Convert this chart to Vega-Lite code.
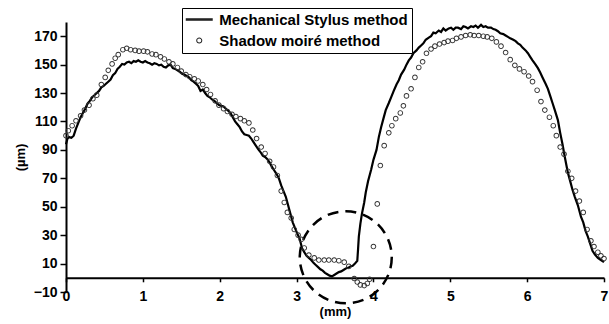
{
  "$schema": "https://vega.github.io/schema/vega-lite/v6.json",
  "width": 538,
  "height": 270,
  "autosize": {"type": "none"},
  "padding": {"left": 66, "top": 22, "right": 5, "bottom": 32},
  "config": {
    "view": {"stroke": null},
    "font": "Liberation Sans",
    "axis": {"grid": false, "domainColor": "black", "tickColor": "black", "labelColor": "black", "titleColor": "black", "labelFont": "Liberation Sans", "titleFont": "Liberation Sans", "labelFontWeight": "bold", "titleFontWeight": "bold", "labelOverlap": false}
  },
  "datasets": {
    "note": [{"x": 3.64, "y": 14.4}],
    "stylus": [
      {"x":0.00,"y":94},{"x":0.02,"y":98},{"x":0.04,"y":99},{"x":0.07,"y":98.5},{"x":0.10,"y":100},{"x":0.13,"y":105},{"x":0.16,"y":109},{"x":0.19,"y":113},{"x":0.22,"y":116},{"x":0.25,"y":119},
      {"x":0.28,"y":122.5},{"x":0.31,"y":124.5},{"x":0.34,"y":127},{"x":0.37,"y":128.5},{"x":0.40,"y":130},{"x":0.43,"y":131.5},{"x":0.46,"y":134},{"x":0.49,"y":135},{"x":0.52,"y":136.5},{"x":0.55,"y":138},
      {"x":0.58,"y":139.5},{"x":0.61,"y":142.5},{"x":0.64,"y":144},{"x":0.67,"y":147},{"x":0.70,"y":148.5},{"x":0.73,"y":150.5},{"x":0.76,"y":150},{"x":0.79,"y":151.5},{"x":0.82,"y":152},{"x":0.85,"y":151},
      {"x":0.88,"y":152.5},{"x":0.91,"y":152},{"x":0.94,"y":153},{"x":0.97,"y":152},{"x":1.00,"y":151.5},{"x":1.03,"y":152.5},{"x":1.06,"y":151.5},{"x":1.09,"y":151},{"x":1.12,"y":150},{"x":1.15,"y":151},
      {"x":1.18,"y":150.5},{"x":1.21,"y":149.5},{"x":1.24,"y":150},{"x":1.27,"y":148.5},{"x":1.30,"y":148},{"x":1.33,"y":149.5},{"x":1.36,"y":150},{"x":1.39,"y":147.5},{"x":1.42,"y":147},{"x":1.45,"y":146},
      {"x":1.48,"y":145},{"x":1.51,"y":143.5},{"x":1.54,"y":143},{"x":1.57,"y":142},{"x":1.60,"y":141},{"x":1.63,"y":139},{"x":1.66,"y":138},{"x":1.69,"y":136.5},{"x":1.72,"y":135},{"x":1.75,"y":131.5},
      {"x":1.78,"y":132.5},{"x":1.81,"y":130},{"x":1.84,"y":128},{"x":1.87,"y":127},{"x":1.90,"y":125.5},{"x":1.93,"y":124.5},{"x":1.96,"y":123},{"x":1.99,"y":121.5},{"x":2.02,"y":121},{"x":2.05,"y":120.5},
      {"x":2.08,"y":119},{"x":2.11,"y":117.5},{"x":2.14,"y":116},{"x":2.17,"y":113},{"x":2.20,"y":110},{"x":2.23,"y":108},{"x":2.26,"y":106},{"x":2.29,"y":103},{"x":2.32,"y":101},{"x":2.35,"y":100.5},
      {"x":2.38,"y":100},{"x":2.41,"y":98},{"x":2.44,"y":95.5},{"x":2.47,"y":93},{"x":2.50,"y":90.5},{"x":2.53,"y":88.5},{"x":2.56,"y":86},{"x":2.59,"y":85},{"x":2.62,"y":83.5},{"x":2.65,"y":81},
      {"x":2.68,"y":78},{"x":2.71,"y":75.5},{"x":2.74,"y":73},{"x":2.77,"y":70},{"x":2.80,"y":65},{"x":2.83,"y":61},{"x":2.86,"y":57},{"x":2.89,"y":51},{"x":2.92,"y":45},{"x":2.95,"y":39},
      {"x":2.98,"y":35},{"x":3.01,"y":31},{"x":3.04,"y":27.5},{"x":3.07,"y":21},{"x":3.10,"y":18},{"x":3.13,"y":15.5},{"x":3.16,"y":14},{"x":3.19,"y":12.5},{"x":3.22,"y":10.5},{"x":3.25,"y":9},
      {"x":3.28,"y":7.5},{"x":3.31,"y":6},{"x":3.34,"y":5},{"x":3.37,"y":3.5},{"x":3.40,"y":2.5},{"x":3.43,"y":1.5},{"x":3.46,"y":1},{"x":3.49,"y":2},{"x":3.52,"y":3},{"x":3.55,"y":4},
      {"x":3.58,"y":4.5},{"x":3.61,"y":5.5},{"x":3.64,"y":6.5},{"x":3.67,"y":7},{"x":3.70,"y":8},{"x":3.73,"y":8.5},{"x":3.76,"y":10},{"x":3.79,"y":12},{"x":3.80,"y":20},{"x":3.81,"y":29},
      {"x":3.83,"y":38},{"x":3.85,"y":45},{"x":3.88,"y":53},{"x":3.90,"y":60},{"x":3.93,"y":68},{"x":3.97,"y":76},{"x":4.00,"y":83},{"x":4.04,"y":90},{"x":4.07,"y":99},{"x":4.10,"y":106},
      {"x":4.13,"y":112},{"x":4.16,"y":118},{"x":4.20,"y":123},{"x":4.23,"y":127},{"x":4.26,"y":131},{"x":4.30,"y":136},{"x":4.33,"y":139},{"x":4.36,"y":143},{"x":4.40,"y":146.5},{"x":4.43,"y":150},
      {"x":4.46,"y":153},{"x":4.49,"y":155},{"x":4.52,"y":158},{"x":4.56,"y":160},{"x":4.59,"y":162},{"x":4.62,"y":163.5},{"x":4.65,"y":165},{"x":4.68,"y":167.5},{"x":4.72,"y":169},{"x":4.75,"y":170},
      {"x":4.78,"y":172.5},{"x":4.81,"y":172},{"x":4.85,"y":174},{"x":4.88,"y":173},{"x":4.91,"y":175.5},{"x":4.94,"y":174},{"x":4.98,"y":175.5},{"x":5.01,"y":176},{"x":5.04,"y":174.5},{"x":5.07,"y":176},
      {"x":5.10,"y":176},{"x":5.14,"y":175},{"x":5.17,"y":177},{"x":5.20,"y":176.5},{"x":5.23,"y":175.5},{"x":5.27,"y":177},{"x":5.30,"y":176.5},{"x":5.33,"y":177.5},{"x":5.36,"y":176},{"x":5.40,"y":178},
      {"x":5.43,"y":176.5},{"x":5.46,"y":177},{"x":5.49,"y":176},{"x":5.53,"y":176},{"x":5.56,"y":175},{"x":5.59,"y":174.5},{"x":5.62,"y":173.5},{"x":5.65,"y":172},{"x":5.69,"y":171.5},{"x":5.72,"y":170.5},
      {"x":5.75,"y":169.5},{"x":5.78,"y":168.5},{"x":5.82,"y":167.5},{"x":5.85,"y":166.5},{"x":5.88,"y":165},{"x":5.91,"y":164},{"x":5.94,"y":162},{"x":5.98,"y":160},{"x":6.01,"y":158},{"x":6.04,"y":155.5},
      {"x":6.07,"y":153},{"x":6.11,"y":150},{"x":6.14,"y":147.5},{"x":6.17,"y":144.5},{"x":6.20,"y":141},{"x":6.24,"y":136.5},{"x":6.27,"y":133},{"x":6.30,"y":128},{"x":6.33,"y":123},{"x":6.36,"y":118},
      {"x":6.40,"y":111},{"x":6.43,"y":102},{"x":6.46,"y":94},{"x":6.49,"y":85},{"x":6.53,"y":74},{"x":6.56,"y":68},{"x":6.59,"y":62},{"x":6.62,"y":57},{"x":6.66,"y":51},{"x":6.70,"y":43},
      {"x":6.73,"y":39},{"x":6.76,"y":33},{"x":6.79,"y":29},{"x":6.82,"y":24},{"x":6.85,"y":19},{"x":6.88,"y":16.5},{"x":6.92,"y":14},{"x":6.96,"y":12.5},{"x":7.00,"y":11}
    ],
    "legendrows": [
      {"method": "Mechanical Stylus method"},
      {"method": "Shadow moiré method"}
    ],
    "moire": [
      {"x":0.00,"y":100},{"x":0.03,"y":103.5},{"x":0.08,"y":107},{"x":0.13,"y":110.5},{"x":0.19,"y":114},{"x":0.24,"y":118},{"x":0.30,"y":121.5},{"x":0.35,"y":126},{"x":0.40,"y":128.5},{"x":0.46,"y":136},
      {"x":0.51,"y":141},{"x":0.55,"y":146},{"x":0.60,"y":150.5},{"x":0.64,"y":154.5},{"x":0.68,"y":157},{"x":0.74,"y":160.5},{"x":0.79,"y":161.5},{"x":0.84,"y":160.5},{"x":0.90,"y":160},{"x":0.95,"y":159.5},
      {"x":1.01,"y":159.5},{"x":1.06,"y":159},{"x":1.12,"y":157.5},{"x":1.17,"y":157},{"x":1.23,"y":155.5},{"x":1.28,"y":154},{"x":1.34,"y":152},{"x":1.39,"y":150.5},{"x":1.45,"y":148},{"x":1.50,"y":145.5},
      {"x":1.56,"y":143},{"x":1.61,"y":141.5},{"x":1.67,"y":140},{"x":1.72,"y":138.5},{"x":1.78,"y":136},{"x":1.83,"y":132.5},{"x":1.88,"y":129},{"x":1.94,"y":124.5},{"x":1.99,"y":121.5},{"x":2.05,"y":119},
      {"x":2.10,"y":117},{"x":2.16,"y":115},{"x":2.21,"y":113.5},{"x":2.27,"y":112},{"x":2.32,"y":110.5},{"x":2.38,"y":109},{"x":2.43,"y":104},{"x":2.48,"y":98},{"x":2.54,"y":92},{"x":2.59,"y":87.5},
      {"x":2.65,"y":82},{"x":2.70,"y":78},{"x":2.75,"y":72},{"x":2.80,"y":61},{"x":2.84,"y":53},{"x":2.88,"y":46},{"x":2.93,"y":42},{"x":2.97,"y":34},{"x":3.02,"y":30},{"x":3.06,"y":27},
      {"x":3.10,"y":21},{"x":3.16,"y":16},{"x":3.23,"y":14},{"x":3.29,"y":12.5},{"x":3.36,"y":12.5},{"x":3.42,"y":12.5},{"x":3.49,"y":12.5},{"x":3.55,"y":12},{"x":3.62,"y":11},{"x":3.68,"y":8},
      {"x":3.75,"y":-0.5},{"x":3.79,"y":-3},{"x":3.83,"y":-5},{"x":3.88,"y":-5.5},{"x":3.92,"y":-4},{"x":3.95,"y":-1},{"x":4.00,"y":22},{"x":4.05,"y":52},{"x":4.09,"y":79},{"x":4.14,"y":93},
      {"x":4.20,"y":102},{"x":4.24,"y":107},{"x":4.29,"y":112},{"x":4.35,"y":116},{"x":4.39,"y":121},{"x":4.43,"y":128},{"x":4.49,"y":133},{"x":4.54,"y":141},{"x":4.59,"y":148},{"x":4.64,"y":152},
      {"x":4.69,"y":158},{"x":4.75,"y":161},{"x":4.80,"y":163},{"x":4.86,"y":164.5},{"x":4.92,"y":165.5},{"x":4.97,"y":166.5},{"x":5.03,"y":167},{"x":5.08,"y":168.5},{"x":5.14,"y":169.5},{"x":5.20,"y":170.5},
      {"x":5.26,"y":171},{"x":5.31,"y":170.5},{"x":5.37,"y":170.5},{"x":5.43,"y":170},{"x":5.48,"y":169.5},{"x":5.54,"y":168.5},{"x":5.60,"y":166},{"x":5.66,"y":163},{"x":5.72,"y":158.5},{"x":5.78,"y":153.5},
      {"x":5.84,"y":149.5},{"x":5.90,"y":147},{"x":5.96,"y":145},{"x":6.02,"y":142},{"x":6.07,"y":138},{"x":6.13,"y":132},{"x":6.18,"y":124},{"x":6.23,"y":118},{"x":6.29,"y":113},{"x":6.34,"y":107},
      {"x":6.38,"y":100},{"x":6.43,"y":92},{"x":6.48,"y":87},{"x":6.53,"y":75},{"x":6.58,"y":70},{"x":6.63,"y":61},{"x":6.68,"y":54},{"x":6.73,"y":46},{"x":6.78,"y":34},{"x":6.83,"y":26},
      {"x":6.87,"y":22},{"x":6.92,"y":18},{"x":6.96,"y":15.5},{"x":7.00,"y":13.5}
    ]
  },
  "encoding": {
    "x": {"field": "x", "type": "quantitative", "scale": {"domain": [0, 7], "nice": false},
      "axis": {"title": "(mm)", "values": [0,1,2,3,4,5,6,7], "format": "d", "labelOverlap": false, "offset": -14.21, "domainWidth": 2, "tickSize": 4, "tickWidth": 1.5, "labelFontSize": 14, "labelPadding": 8, "labelFlush": false, "titleFontSize": 13, "titlePadding": 2}},
    "y": {"field": "y", "type": "quantitative", "scale": {"domain": [-10, 180], "nice": false},
      "axis": {"title": "(µm)", "values": [-10,10,30,50,70,90,110,130,150,170], "format": "d", "labelOverlap": false, "labelBound": false, "domainWidth": 2, "tickSize": 6, "tickWidth": 1.5, "labelFontSize": 14, "labelPadding": 3, "titleFontSize": 13, "titlePadding": 6}}
  },
  "layer": [
    {
      "data": {"name": "note"},
      "mark": {"type": "point", "shape": "circle", "size": 8464, "filled": false, "stroke": "black", "strokeWidth": 2.5, "strokeDash": [11, 7], "opacity": 1}
    },
    {
      "data": {"name": "stylus"},
      "mark": {"type": "line", "color": "black", "strokeWidth": 2.2}
    },
    {
      "data": {"name": "moire"},
      "mark": {"type": "point", "filled": true, "color": "#333333", "strokeWidth": 0, "size": 156, "opacity": 1, "shape": "M0.45,0A0.45,0.45,0,1,1,-0.45,0A0.45,0.45,0,1,1,0.45,0ZM0.3,0A0.3,0.3,0,1,0,-0.3,0A0.3,0.3,0,1,0,0.3,0Z"}
    },
    {
      "data": {"name": "legendrows"},
      "mark": {"type": "point", "filled": true, "color": "#222222", "strokeWidth": 0, "size": 0, "opacity": 1},
      "encoding": {
        "x": {"value": 0},
        "y": {"value": 0},
        "shape": {
          "field": "method",
          "type": "nominal",
          "scale": {
            "domain": ["Mechanical Stylus method", "Shadow moiré method"],
            "range": ["M-2,-0.19H2V0.19H-2Z", "M0.45,0A0.45,0.45,0,1,1,-0.45,0A0.45,0.45,0,1,1,0.45,0ZM0.3,0A0.3,0.3,0,1,0,-0.3,0A0.3,0.3,0,1,0,0.3,0Z"]
          },
          "legend": {
            "title": null,
            "orient": "none",
            "legendX": 116,
            "legendY": -14,
            "padding": 4,
            "strokeColor": "black",
            "fillColor": "white",
            "symbolSize": 182,
            "symbolOffset": 5.75,
            "symbolFillColor": "black",
            "symbolStrokeWidth": 0,
            "labelOffset": 12.5,
            "labelLimit": 400,
            "rowPadding": 5,
            "labelFont": "Liberation Sans",
            "labelFontWeight": "bold",
            "labelFontSize": 15,
            "labelColor": "black"
          }
        }
      }
    }
  ]
}
